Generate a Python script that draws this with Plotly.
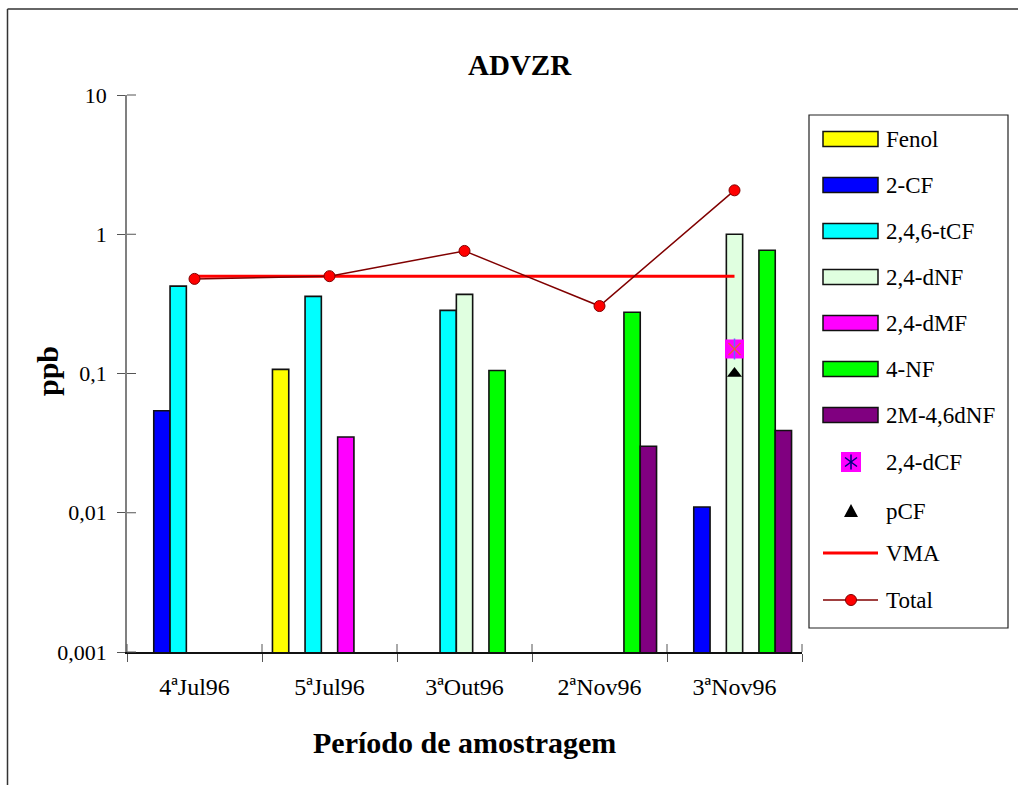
import math
import plotly.graph_objects as go

# Sampling periods
periodos = ["4ªJul96", "5ªJul96", "3ªOut96", "2ªNov96", "3ªNov96"]

# Concentrations (ppb) per compound
fenol = [None, 0.107, None, None, None]
cf2 = [0.054, None, None, None, 0.011]
tcf246 = [0.424, 0.358, 0.284, None, None]
dnf24 = [None, None, 0.37, None, 1.0]
dmf24 = [None, 0.035, None, None, None]
nf4 = [None, None, 0.105, 0.275, 0.767]
m2dnf46 = [None, None, None, 0.030, 0.039]
dcf24 = [None, None, None, None, 0.15]
pcf = [None, None, None, None, 0.1]
vma = [0.5, 0.5, 0.5, 0.5, 0.5]
total = [0.478, 0.5, 0.759, 0.305, 2.067]

y_tickvals = [0.001, 0.01, 0.1, 1, 10]
y_ticktext = ["0,001", "0,01", "0,1", "1", "10"]

bar_series = [
    ("Fenol", fenol, "#FFFF00"),
    ("2-CF", cf2, "#0000FF"),
    ("2,4,6-tCF", tcf246, "#00FFFF"),
    ("2,4-dNF", dnf24, "#E0FFE0"),
    ("2,4-dMF", dmf24, "#FF00FF"),
    ("4-NF", nf4, "#00FF00"),
    ("2M-4,6dNF", m2dnf46, "#800080"),
]

FONT = "Liberation Serif"
W, H = 1018, 785
ML, MR, MT, MB = 127, 216, 95, 133
PW, PH = W - ML - MR, H - MT - MB


def px(x):
    return (x - ML) / PW


def py(y):
    return (H - MB - y) / PH


fig = go.Figure()

for name, vals, color in bar_series:
    fig.add_trace(go.Bar(
        x=periodos, y=vals, name=name,
        marker=dict(color=color, line=dict(color="#111111", width=1.6)),
    ))

fig.add_trace(go.Scatter(
    x=periodos, y=vma, name="VMA", mode="lines",
    line=dict(color="#FF0000", width=3),
))
fig.add_trace(go.Scatter(
    x=periodos, y=total, name="Total", mode="lines+markers",
    line=dict(color="#800000", width=1.5),
    marker=dict(symbol="circle", size=11, color="#FF0000",
                line=dict(color="#800000", width=1)),
))
# 2,4-dCF: magenta square with a six-armed asterisk
fig.add_trace(go.Scatter(
    x=periodos, y=dcf24, name="2,4-dCF", mode="markers",
    marker=dict(symbol="square", size=19, color="#FF00FF", line=dict(width=0)),
))
fig.add_trace(go.Scatter(
    x=periodos, y=dcf24, mode="markers", showlegend=False,
    marker=dict(symbol="line-ns-open", size=15, line=dict(color="#000080", width=1.5)),
))
fig.add_trace(go.Scatter(
    x=periodos, y=dcf24, mode="markers", showlegend=False,
    marker=dict(symbol="x-thin-open", size=12, line=dict(color="#000080", width=1.5)),
))
fig.add_trace(go.Scatter(
    x=periodos, y=pcf, name="pCF", mode="markers",
    marker=dict(symbol="triangle-up", size=13, color="#000000"),
))

shapes = []
annotations = []

# Outer frame (left and top edges)
shapes.append(dict(type="line", xref="paper", yref="paper",
                   x0=px(7.5), x1=px(7.5), y0=py(9), y1=py(H + 5),
                   line=dict(color="#333333", width=1.5)))
shapes.append(dict(type="line", xref="paper", yref="paper",
                   x0=px(7.5), x1=px(W + 5), y0=py(9), y1=py(9),
                   line=dict(color="#333333", width=1.5)))

# Inner half of the crossing tick marks
for v in y_tickvals:
    yy = (math.log10(v) + 3) / 4
    shapes.append(dict(type="line", xref="paper", yref="paper",
                       x0=0, x1=px(ML + 9), y0=yy, y1=yy,
                       line=dict(color="#555555", width=1)))
for k in range(len(periodos) + 1):
    xx = k / len(periodos)
    shapes.append(dict(type="line", xref="paper", yref="paper",
                       x0=xx, x1=xx, y0=0, y1=py(H - MB - 8),
                       line=dict(color="#555555", width=1)))

# Legend box
shapes.append(dict(type="rect", xref="paper", yref="paper",
                   x0=px(809), x1=px(1008), y0=py(628), y1=py(115),
                   line=dict(color="#222222", width=1.2), fillcolor="white"))

legend_rows = [139, 185, 231, 277, 323, 369, 415, 462, 511, 553, 600]
sym_x0, sym_x1, sym_c = 823, 878, 851
text_x = 884
LEG_FONT = dict(family=FONT, size=23, color="black")

for (name, vals, color), yc in zip(bar_series, legend_rows[:7]):
    shapes.append(dict(type="rect", xref="paper", yref="paper",
                       x0=px(sym_x0), x1=px(sym_x1), y0=py(yc + 7.5), y1=py(yc - 7.5),
                       line=dict(color="#111111", width=1.5), fillcolor=color))
    annotations.append(dict(text=name, xref="paper", yref="paper",
                            x=px(text_x), y=py(yc), xanchor="left", yanchor="middle",
                            showarrow=False, font=LEG_FONT))

# 2,4-dCF legend symbol
yc = legend_rows[7]
shapes.append(dict(type="rect", xref="paper", yref="paper",
                   x0=px(sym_c - 10), x1=px(sym_c + 10), y0=py(yc + 10), y1=py(yc - 10),
                   line=dict(width=0), fillcolor="#FF00FF"))
for dx0, dy0, dx1, dy1 in [(0, -7.5, 0, 7.5), (-6, -4.5, 6, 4.5), (-6, 4.5, 6, -4.5)]:
    shapes.append(dict(type="line", xref="paper", yref="paper",
                       x0=px(sym_c + dx0), x1=px(sym_c + dx1),
                       y0=py(yc + dy0), y1=py(yc + dy1),
                       line=dict(color="#000080", width=1.5)))
annotations.append(dict(text="2,4-dCF", xref="paper", yref="paper",
                        x=px(text_x), y=py(yc), xanchor="left", yanchor="middle",
                        showarrow=False, font=LEG_FONT))

# pCF legend symbol
yc = legend_rows[8]
shapes.append(dict(type="path", xref="paper", yref="paper",
                   path="M {} {} L {} {} L {} {} Z".format(
                       px(sym_c - 7), py(yc + 6), px(sym_c + 7), py(yc + 6), px(sym_c), py(yc - 7)),
                   line=dict(width=0), fillcolor="black"))
annotations.append(dict(text="pCF", xref="paper", yref="paper",
                        x=px(text_x), y=py(yc), xanchor="left", yanchor="middle",
                        showarrow=False, font=LEG_FONT))

# VMA legend symbol
yc = legend_rows[9]
shapes.append(dict(type="line", xref="paper", yref="paper",
                   x0=px(sym_x0), x1=px(sym_x1), y0=py(yc), y1=py(yc),
                   line=dict(color="#FF0000", width=3)))
annotations.append(dict(text="VMA", xref="paper", yref="paper",
                        x=px(text_x), y=py(yc), xanchor="left", yanchor="middle",
                        showarrow=False, font=LEG_FONT))

# Total legend symbol
yc = legend_rows[10]
shapes.append(dict(type="line", xref="paper", yref="paper",
                   x0=px(sym_x0), x1=px(sym_x1), y0=py(yc), y1=py(yc),
                   line=dict(color="#800000", width=1.5)))
shapes.append(dict(type="circle", xref="paper", yref="paper",
                   x0=px(sym_c - 5.5), x1=px(sym_c + 5.5), y0=py(yc + 5.5), y1=py(yc - 5.5),
                   line=dict(color="#800000", width=1), fillcolor="#FF0000"))
annotations.append(dict(text="Total", xref="paper", yref="paper",
                        x=px(text_x), y=py(yc), xanchor="left", yanchor="middle",
                        showarrow=False, font=LEG_FONT))

# Titles
annotations.append(dict(text="<b>ADVZR</b>", xref="paper", yref="paper",
                        x=px(520), y=py(65), xanchor="center", yanchor="middle",
                        showarrow=False, font=dict(family=FONT, size=29, color="black")))
annotations.append(dict(text="<b>Período de amostragem</b>", xref="paper", yref="paper",
                        x=px(464), y=py(742), xanchor="center", yanchor="middle",
                        showarrow=False, font=dict(family=FONT, size=30, color="black")))
annotations.append(dict(text="<b>ppb</b>", xref="paper", yref="paper",
                        x=px(47), y=py(371), xanchor="center", yanchor="middle",
                        textangle=-90,
                        showarrow=False, font=dict(family=FONT, size=30, color="black")))

fig.update_layout(
    width=W, height=H,
    margin=dict(l=ML, r=MR, t=MT, b=MB, pad=0),
    paper_bgcolor="white", plot_bgcolor="white",
    barmode="group", bargap=0.155, bargroupgap=0,
    showlegend=False,
    shapes=shapes, annotations=annotations,
    font=dict(family=FONT, color="black"),
    xaxis=dict(
        type="category", range=[-0.5, len(periodos) - 0.5],
        showline=True, linecolor="#111111", linewidth=1.5,
        ticks="outside", tickson="boundaries", ticklen=8, tickcolor="#555555",
        tickfont=dict(family=FONT, size=24, color="black"),
        ticklabelstandoff=12,
        showgrid=False, zeroline=False, fixedrange=True,
    ),
    yaxis=dict(
        type="log", range=[-3, 1],
        tickvals=y_tickvals, ticktext=y_ticktext,
        showline=True, linecolor="#808080", linewidth=1.5,
        ticks="outside", ticklen=8, tickcolor="#555555",
        tickfont=dict(family=FONT, size=22, color="black"),
        ticklabelstandoff=6,
        showgrid=False, zeroline=False, fixedrange=True,
    ),
)

fig.write_html("out.html")
